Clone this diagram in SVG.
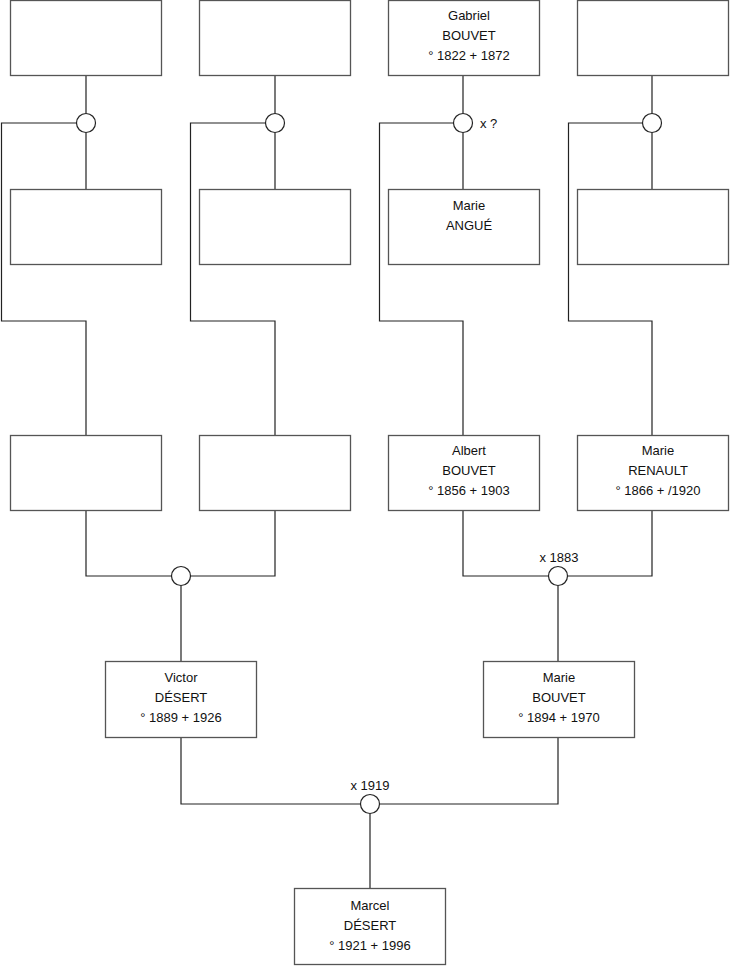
<svg xmlns="http://www.w3.org/2000/svg" width="740" height="975" viewBox="0 0 740 975">
<style>
.box{fill:#fff;stroke:#555;stroke-width:1.3}
.ln{fill:none;stroke:#222;stroke-width:1.2}
.c{fill:#fff;stroke:#222;stroke-width:1.2}
text{font-family:"Liberation Sans",Arial,sans-serif;font-size:13px;fill:#111;text-anchor:middle}
</style>
<rect width="740" height="975" fill="#fff"/>
<g id="connectors">
<path class="ln" d="M86,75.5V113.5M86,132.5V189.5M76.5,123H1.5V321H86V435.5"/>
<path class="ln" d="M275,75.5V113.5M275,132.5V189.5M265.5,123H190.5V321H275V435.5"/>
<path class="ln" d="M463,75.5V113.5M463,132.5V189.5M453.5,123H379.5V321H463V435.5"/>
<path class="ln" d="M652,75.5V113.5M652,132.5V189.5M642.5,123H568.5V321H652V435.5"/>
<path class="ln" d="M86,510.5V576H171.5M190.5,576H275V510.5M181,585.5V661.5"/>
<path class="ln" d="M463,510.5V576H548.5M567.5,576H652V510.5M558,585.5V661.5"/>
<path class="ln" d="M181,737.5V804H360.5M379.5,804H558V737.5M370,813.5V888.5"/>
<circle class="c" cx="86" cy="123" r="9.5"/>
<circle class="c" cx="275" cy="123" r="9.5"/>
<circle class="c" cx="463" cy="123" r="9.5"/>
<circle class="c" cx="652" cy="123" r="9.5"/>
<circle class="c" cx="181" cy="576" r="9.5"/>
<circle class="c" cx="558" cy="576" r="9.5"/>
<circle class="c" cx="370" cy="804" r="9.5"/>
<text x="480" y="128" style="text-anchor:start">x ?</text>
<text x="559" y="562">x 1883</text>
<text x="370" y="790">x 1919</text>
</g>
<g id="n1"><rect class="box" x="10.5" y="0.5" width="151" height="75"/></g>
<g id="n2"><rect class="box" x="199.5" y="0.5" width="151" height="75"/></g>
<g id="n3"><rect class="box" x="388.5" y="0.5" width="151" height="75"/>
<text x="469" y="20">Gabriel</text><text x="469" y="40">BOUVET</text><text x="469" y="60">° 1822 + 1872</text></g>
<g id="n4"><rect class="box" x="577.5" y="0.5" width="151" height="75"/></g>
<g id="n5"><rect class="box" x="10.5" y="189.5" width="151" height="75"/></g>
<g id="n6"><rect class="box" x="199.5" y="189.5" width="151" height="75"/></g>
<g id="n7"><rect class="box" x="388.5" y="189.5" width="151" height="75"/>
<text x="469" y="210">Marie</text><text x="469" y="230">ANGUÉ</text></g>
<g id="n8"><rect class="box" x="577.5" y="189.5" width="151" height="75"/></g>
<g id="n9"><rect class="box" x="10.5" y="435.5" width="151" height="75"/></g>
<g id="n10"><rect class="box" x="199.5" y="435.5" width="151" height="75"/></g>
<g id="n11"><rect class="box" x="388.5" y="435.5" width="151" height="75"/>
<text x="469" y="455">Albert</text><text x="469" y="475">BOUVET</text><text x="469" y="495">° 1856 + 1903</text></g>
<g id="n12"><rect class="box" x="577.5" y="435.5" width="151" height="75"/>
<text x="658" y="455">Marie</text><text x="658" y="475">RENAULT</text><text x="658" y="495">° 1866 + /1920</text></g>
<g id="n13"><rect class="box" x="105.5" y="661.5" width="151" height="76"/>
<text x="181" y="682">Victor</text><text x="181" y="702">DÉSERT</text><text x="181" y="722">° 1889 + 1926</text></g>
<g id="n14"><rect class="box" x="483.5" y="661.5" width="151" height="76"/>
<text x="559" y="682">Marie</text><text x="559" y="702">BOUVET</text><text x="559" y="722">° 1894 + 1970</text></g>
<g id="n15"><rect class="box" x="294.5" y="888.5" width="151" height="76"/>
<text x="370" y="910">Marcel</text><text x="370" y="930">DÉSERT</text><text x="370" y="950">° 1921 + 1996</text></g>
</svg>
